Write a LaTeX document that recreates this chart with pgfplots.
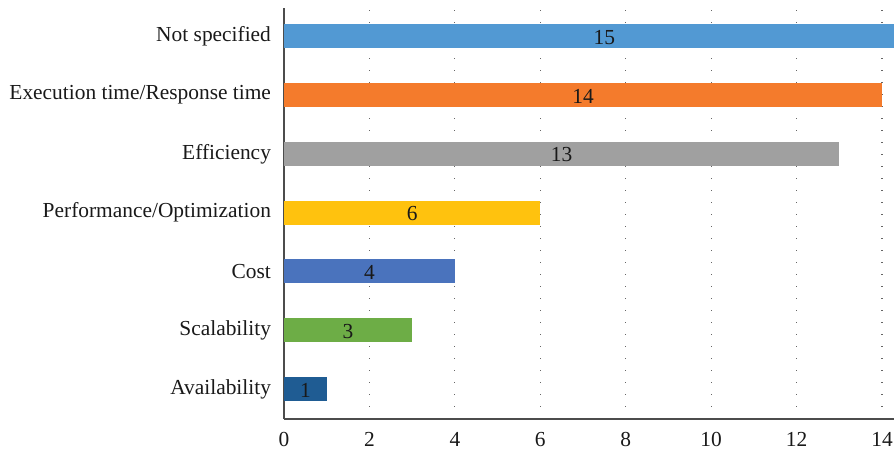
\documentclass[border=0pt]{standalone}
\usepackage{pgfplots}
\pgfplotsset{compat=1.18}
\usepackage{fontspec}
\setmainfont{Liberation Serif}
\definecolor{c1}{HTML}{5299D3}
\definecolor{c2}{HTML}{F47B2C}
\definecolor{c3}{HTML}{A0A0A0}
\definecolor{c4}{HTML}{FFC20E}
\definecolor{c5}{HTML}{4A73BD}
\definecolor{c6}{HTML}{6DAD46}
\definecolor{c7}{HTML}{1F5C93}
\begin{document}
\begin{tikzpicture}
\begin{axis}[
  scale only axis,
  width=305pt, height=205.5pt,
  xmin=0, xmax=14.28,
  ymin=-0.51, ymax=6.48,
  axis x line*=bottom, axis y line*=left,
  axis line style={-, draw=black!70, line width=0.8pt},
  xtick={0,2,...,14},
  ytick={0,...,6},
  yticklabels={Availability,Scalability,Cost,Performance/Optimization,Efficiency,Execution time/Response time,Not specified},
  major tick length=0pt,
  tick label style={font=\fontsize{10.7}{12}\selectfont, text=black!90},
  xticklabel style={yshift=-3pt},
  yticklabel style={xshift=-3pt},
  /pgf/number format/assume math mode=true,
  xmajorgrids,
  major grid style={draw=black!60, line width=0.6pt, dash pattern=on 0.6pt off 5.4pt},
  xbar, bar width=12pt, bar shift=0pt,
  clip=true,
]
\addplot[fill=c1, draw=none] coordinates {(15,6)};
\addplot[fill=c2, draw=none] coordinates {(14,5)};
\addplot[fill=c3, draw=none] coordinates {(13,4)};
\addplot[fill=c4, draw=none] coordinates {(6,3)};
\addplot[fill=c5, draw=none] coordinates {(4,2)};
\addplot[fill=c6, draw=none] coordinates {(3,1)};
\addplot[fill=c7, draw=none] coordinates {(1,0)};
\addplot[draw=none, mark=none, xbar=0pt, forget plot,
  nodes near coords, point meta=explicit symbolic,
  every node near coord/.style={anchor=center, font=\fontsize{10.7}{12}\selectfont, text=black!90, yshift=-0.5pt}]
  table[meta=lab] {
x y lab
7.5 6 15
7 5 14
6.5 4 13
3 3 6
2 2 4
1.5 1 3
0.5 0 1
};
\end{axis}
\pgfresetboundingbox
\useasboundingbox (-142pt,-17pt) rectangle (305pt,209.5pt);
\end{tikzpicture}
\end{document}
